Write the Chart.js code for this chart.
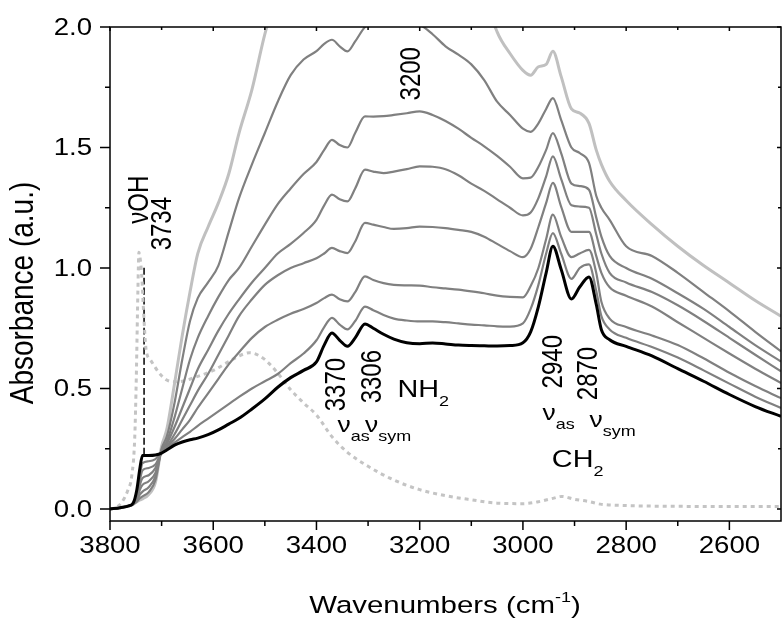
<!DOCTYPE html>
<html lang="en">
<head>
    <meta charset="UTF-8">
    <title>IR spectra - Absorbance vs Wavenumbers</title>
    <style>
        body {
            margin: 0;
            padding: 0;
            background: #ffffff;
        }
        #wrap {
            width: 784px;
            height: 624px;
        }
    </style>
    <script src="https://cdn.jsdelivr.net/npm/chart.js"></script>
</head>
<body>
    <div id="wrap"><canvas id="graph" width="784" height="624"></canvas></div>
    <script>
        // wavenumber grid (cm-1) shared by the spectra
        const wavenumbers = [3800, 3780, 3765, 3755, 3748, 3742, 3737, 3725, 3712, 3700,
            3690, 3675, 3660, 3645, 3630, 3610, 3590, 3570, 3550, 3525,
            3500, 3475, 3450, 3425, 3400, 3385, 3370, 3355, 3340, 3325,
            3306, 3290, 3270, 3250, 3225, 3200, 3175, 3150, 3125, 3100,
            3075, 3050, 3025, 3000, 2985, 2970, 2955, 2942, 2926, 2906,
            2890, 2872, 2858, 2848, 2832, 2800, 2750, 2700, 2650, 2600,
            2550, 2500];

        // bottom black spectrum
        const blackSpectrum = [0, 0.005, 0.012, 0.025, 0.08, 0.17, 0.222, 0.222, 0.224, 0.232,
            0.245, 0.265, 0.278, 0.287, 0.294, 0.308, 0.328, 0.352, 0.376, 0.415,
            0.457, 0.505, 0.545, 0.575, 0.61, 0.68, 0.73, 0.70, 0.675, 0.71,
            0.768, 0.75, 0.725, 0.705, 0.69, 0.686, 0.689, 0.685, 0.68, 0.678,
            0.677, 0.676, 0.678, 0.69, 0.735, 0.84, 0.98, 1.09, 0.995, 0.871,
            0.921, 0.963, 0.85, 0.744, 0.702, 0.675, 0.635, 0.582, 0.53, 0.475,
            0.425, 0.384];

        // grey spectra, lowest (gray6) to highest (gray1)
        const gray6 = [0, 0.005, 0.012, 0.022, 0.06, 0.14, 0.19, 0.198, 0.207, 0.235,
            0.25, 0.275, 0.298, 0.32, 0.345, 0.375, 0.405, 0.435, 0.465, 0.50,
            0.53, 0.56, 0.605, 0.645, 0.70, 0.755, 0.793, 0.765, 0.745, 0.78,
            0.84, 0.825, 0.805, 0.79, 0.782, 0.778, 0.778, 0.775, 0.77, 0.765,
            0.762, 0.758, 0.757, 0.77, 0.83, 0.93, 1.06, 1.145, 1.06, 0.955,
            1.0, 1.015, 0.905, 0.80, 0.745, 0.71, 0.672, 0.628, 0.575, 0.52,
            0.466, 0.419];

        const gray5 = [0, 0.005, 0.012, 0.02, 0.05, 0.12, 0.16, 0.17, 0.185, 0.235,
            0.255, 0.29, 0.33, 0.37, 0.42, 0.48, 0.54, 0.60, 0.65, 0.71,
            0.755, 0.785, 0.81, 0.83, 0.855, 0.875, 0.889, 0.87, 0.861, 0.90,
            0.965, 0.95, 0.937, 0.93, 0.928, 0.927, 0.92, 0.915, 0.91, 0.903,
            0.895, 0.885, 0.88, 0.878, 0.925, 1.0, 1.12, 1.221, 1.13, 1.045,
            1.06, 1.075, 0.98, 0.86, 0.79, 0.755, 0.72, 0.68, 0.625, 0.565,
            0.51, 0.46];

        const gray4 = [0, 0.005, 0.012, 0.02, 0.045, 0.10, 0.128, 0.14, 0.17, 0.238,
            0.26, 0.31, 0.37, 0.43, 0.49, 0.56, 0.64, 0.72, 0.80, 0.87,
            0.93, 0.97, 1.0, 1.02, 1.04, 1.06, 1.083, 1.07, 1.062, 1.11,
            1.187, 1.18, 1.17, 1.162, 1.165, 1.172, 1.17, 1.165, 1.158, 1.15,
            1.13, 1.10, 1.07, 1.045, 1.08, 1.17, 1.27, 1.353, 1.255, 1.15,
            1.15, 1.15, 1.05, 0.98, 0.92, 0.885, 0.84, 0.775, 0.71, 0.645,
            0.582, 0.523];

        const gray3 = [0, 0.005, 0.012, 0.02, 0.04, 0.08, 0.10, 0.115, 0.15, 0.24,
            0.27, 0.34, 0.42, 0.50, 0.58, 0.66, 0.74, 0.81, 0.87, 0.94,
            1.0, 1.06, 1.10, 1.145, 1.20, 1.26, 1.304, 1.285, 1.276, 1.33,
            1.408, 1.40, 1.394, 1.40, 1.41, 1.422, 1.42, 1.41, 1.385, 1.35,
            1.32, 1.285, 1.25, 1.218, 1.23, 1.29, 1.38, 1.463, 1.37, 1.26,
            1.255, 1.25, 1.14, 1.06, 0.98, 0.94, 0.90, 0.845, 0.78, 0.71,
            0.64, 0.571];

        const gray2 = [0, 0.005, 0.012, 0.02, 0.035, 0.06, 0.072, 0.09, 0.135, 0.245,
            0.28, 0.38, 0.50, 0.62, 0.71, 0.80, 0.88, 0.95, 1.00, 1.09,
            1.18, 1.265, 1.33, 1.39, 1.44, 1.49, 1.532, 1.51, 1.50, 1.56,
            1.629, 1.628, 1.63, 1.635, 1.642, 1.65, 1.635, 1.61, 1.578, 1.54,
            1.505, 1.465, 1.42, 1.372, 1.375, 1.42, 1.49, 1.56, 1.477, 1.35,
            1.34, 1.325, 1.21, 1.13, 1.05, 1.0, 0.955, 0.895, 0.83, 0.755,
            0.68, 0.612];

        const gray1 = [0, 0.005, 0.012, 0.02, 0.03, 0.045, 0.052, 0.07, 0.12, 0.25,
            0.30, 0.44, 0.62, 0.78, 0.875, 0.94, 1.01, 1.15, 1.29, 1.43,
            1.56, 1.69, 1.80, 1.865, 1.90, 1.93, 1.947, 1.92, 1.899, 1.94,
            2.0, 2.02, 2.03, 2.03, 2.02, 2.01, 1.97, 1.92, 1.885, 1.845,
            1.78, 1.69, 1.635, 1.578, 1.565, 1.60, 1.66, 1.705, 1.615, 1.50,
            1.477, 1.436, 1.30, 1.25, 1.20, 1.09, 1.05, 0.98, 0.90, 0.82,
            0.735, 0.654];

        // light grey spectrum, off scale between ~3500 and ~3060
        const lightGray = [0, 0.005, 0.012, 0.02, 0.03, 0.037, 0.042, 0.06, 0.11, 0.26,
            0.33, 0.52, 0.72, 0.90, 1.06, 1.17, 1.27, 1.39, 1.56, 1.74,
            1.97, 2.15, 2.3, 2.4, 2.45, 2.5, 2.5, 2.5, 2.5, 2.5,
            2.5, 2.5, 2.5, 2.5, 2.5, 2.5, 2.5, 2.5, 2.5, 2.5,
            2.15, 1.98, 1.89, 1.82, 1.80, 1.835, 1.845, 1.899, 1.795, 1.66,
            1.643, 1.60, 1.49, 1.43, 1.36, 1.28, 1.18, 1.09, 1.01, 0.938,
            0.865, 0.80];

        // dotted reference spectrum
        const dottedWavenumbers = [3800, 3790, 3778, 3765, 3758, 3752, 3749, 3746, 3744, 3741,
            3738, 3735, 3730, 3722, 3705, 3690, 3675, 3660, 3630, 3600,
            3575, 3550, 3530, 3510, 3490, 3470, 3450, 3425, 3400, 3370,
            3340, 3300, 3250, 3200, 3150, 3100, 3050, 3000, 2970, 2940,
            2925, 2900, 2875, 2850, 2800, 2700, 2600, 2500];
        const dottedSpectrum = [0, 0.005, 0.025, 0.08, 0.135, 0.30, 0.55, 0.9, 1.065, 1.03,
            0.95, 0.82, 0.66, 0.62, 0.565, 0.535, 0.528, 0.53, 0.55, 0.575,
            0.605, 0.635, 0.648, 0.635, 0.60, 0.55, 0.495, 0.44, 0.39, 0.30,
            0.235, 0.177, 0.12, 0.08, 0.055, 0.038, 0.024, 0.022, 0.03, 0.045,
            0.052, 0.04, 0.032, 0.02, 0.014, 0.011, 0.01, 0.01];

        // dashed marker at the free OH band
        const ohMarkerWavenumber = [3734, 3734];
        const ohMarkerRange = [0.225, 1.01];

        // axes
        const xMajorTicks = [3800, 3600, 3400, 3200, 3000, 2800, 2600];
        const xMinorTicks = [3700, 3500, 3300, 3100, 2900, 2700];
        const yMajorTicks = [0.0, 0.5, 1.0, 1.5, 2.0];
        const yMinorTicks = [0.25, 0.75, 1.25, 1.75];

        // peak labels: text, wavenumber, absorbance (label centre)
        const peakLabels = [
            ['3200', 3215, 1.806],
            ['3370', 3361, 0.516],
            ['3306', 3291, 0.549],
            ['2940', 2939, 0.611],
            ['2870', 2871, 0.562],
            ['3734', 3697, 1.184],
            ['\u03bdOH', 3742, 1.283]
        ];

        const FONT = '"Liberation Sans", Arial, sans-serif';
        const SX = 1.2; // the original figure is stretched horizontally

        function pts(xs, ys) {
            return xs.map((w, i) => ({ x: w, y: ys[i] }));
        }

        function text(ctx, str, x, y, size, opts) {
            opts = opts || {};
            ctx.save();
            ctx.translate(x, y);
            ctx.scale(SX, 1);
            if (opts.rotate) ctx.rotate(-Math.PI / 2);
            ctx.font = size + 'px ' + FONT;
            ctx.textAlign = opts.align || 'left';
            ctx.textBaseline = opts.baseline || 'alphabetic';
            ctx.fillStyle = '#000';
            ctx.fillText(str, 0, 0);
            ctx.restore();
        }

        // draws pieces one after another (for sub/superscripts)
        function run(ctx, segs, x, y, align) {
            let total = 0;
            segs.forEach(s => {
                ctx.font = s.size + 'px ' + FONT;
                s.w = ctx.measureText(s.t).width * SX;
                total += s.w;
            });
            let cx = align === 'center' ? x - total / 2 : x;
            segs.forEach(s => {
                text(ctx, s.t, cx, y + (s.dy || 0), s.size);
                cx += s.w;
            });
        }

        const framePlugin = {
            id: 'frame',
            afterDraw(chart) {
                const ctx = chart.ctx;
                const a = chart.chartArea;
                const xs = chart.scales.x;
                const ys = chart.scales.y;

                ctx.save();
                ctx.strokeStyle = '#000';
                ctx.lineWidth = 1.5;
                ctx.strokeRect(a.left, a.top, a.right - a.left, a.bottom - a.top);

                ctx.beginPath();
                xMajorTicks.forEach(v => {
                    const p = xs.getPixelForValue(v);
                    ctx.moveTo(p, a.bottom); ctx.lineTo(p, a.bottom + 9);
                    ctx.moveTo(p, a.top); ctx.lineTo(p, a.top + 4);
                });
                xMinorTicks.forEach(v => {
                    const p = xs.getPixelForValue(v);
                    ctx.moveTo(p, a.bottom); ctx.lineTo(p, a.bottom + 5);
                    ctx.moveTo(p, a.top); ctx.lineTo(p, a.top + 3);
                });
                yMajorTicks.forEach(v => {
                    const p = ys.getPixelForValue(v);
                    ctx.moveTo(a.left, p); ctx.lineTo(a.left - 10, p);
                    ctx.moveTo(a.right, p); ctx.lineTo(a.right - 4, p);
                });
                yMinorTicks.forEach(v => {
                    const p = ys.getPixelForValue(v);
                    ctx.moveTo(a.left, p); ctx.lineTo(a.left - 5, p);
                    ctx.moveTo(a.right, p); ctx.lineTo(a.right - 3, p);
                });
                ctx.stroke();
                ctx.restore();

                xMajorTicks.forEach(v => {
                    text(ctx, String(v), xs.getPixelForValue(v), a.bottom + 32, 23, { align: 'center' });
                });
                yMajorTicks.forEach(v => {
                    text(ctx, v.toFixed(1), 92, ys.getPixelForValue(v) + 8, 23, { align: 'right' });
                });

                // axis titles
                run(ctx, [
                    { t: 'Wavenumbers (cm', size: 24.5 },
                    { t: '-1', size: 15, dy: -11 },
                    { t: ')', size: 24.5 }
                ], 445, 613, 'center');
                text(ctx, 'Absorbance (a.u.)', 33, 293, 28, { rotate: true, align: 'center' });

                // peak labels
                peakLabels.forEach(([t, w, v]) => {
                    text(ctx, t, xs.getPixelForValue(w), ys.getPixelForValue(v), 24,
                        { rotate: true, align: 'center', baseline: 'middle' });
                });

                // band assignments
                const X = w => xs.getPixelForValue(w);
                const Y = v => ys.getPixelForValue(v);
                run(ctx, [{ t: 'NH', size: 24 }, { t: '2', size: 15, dy: 9 }], X(3243), Y(0.466), 'left');
                run(ctx, [{ t: '\u03bd', size: 22 }, { t: 'as', size: 15, dy: 9 }], X(3359), Y(0.321), 'left');
                run(ctx, [{ t: '\u03bd', size: 22 }, { t: 'sym', size: 15, dy: 9 }], X(3306), Y(0.321), 'left');
                run(ctx, [{ t: '\u03bd', size: 22 }, { t: 'as', size: 15, dy: 9 }], X(2962), Y(0.371), 'left');
                run(ctx, [{ t: '\u03bd', size: 22 }, { t: 'sym', size: 15, dy: 9 }], X(2871), Y(0.341), 'left');
                run(ctx, [{ t: 'CH', size: 24 }, { t: '2', size: 15, dy: 9 }], X(2944), Y(0.176), 'left');
            }
        };

        const grayLine = '#808080';
        const line = (data, color, width, extra) => Object.assign({
            data: data,
            borderColor: color,
            borderWidth: width,
            pointRadius: 0,
            fill: false,
            cubicInterpolationMode: 'monotone'
        }, extra || {});

        new Chart(document.getElementById('graph').getContext('2d'), {
            type: 'line',
            data: {
                datasets: [
                    line(pts(wavenumbers, blackSpectrum), '#000000', 3),
                    line(pts(wavenumbers, gray6), grayLine, 2.2),
                    line(pts(wavenumbers, gray5), grayLine, 2.2),
                    line(pts(wavenumbers, gray4), grayLine, 2.2),
                    line(pts(wavenumbers, gray3), grayLine, 2.2),
                    line(pts(wavenumbers, gray2), grayLine, 2.2),
                    line(pts(wavenumbers, gray1), grayLine, 2.2),
                    line(pts(wavenumbers, lightGray), '#c0c0c0', 3),
                    line(pts(dottedWavenumbers, dottedSpectrum), '#c4c4c4', 3, { borderDash: [4, 4] }),
                    line(pts(ohMarkerWavenumber, ohMarkerRange), '#000000', 1.5, { borderDash: [7, 3] })
                ]
            },
            options: {
                responsive: false,
                animation: false,
                devicePixelRatio: 1,
                layout: { padding: { left: 110, right: 3, top: 27, bottom: 103 } },
                plugins: {
                    legend: { display: false },
                    tooltip: { enabled: false }
                },
                scales: {
                    x: { type: 'linear', reverse: true, min: 2500, max: 3800, display: false },
                    y: { type: 'linear', min: -0.05, max: 2.0, display: false }
                }
            },
            plugins: [framePlugin]
        });
    </script>
</body>
</html>
